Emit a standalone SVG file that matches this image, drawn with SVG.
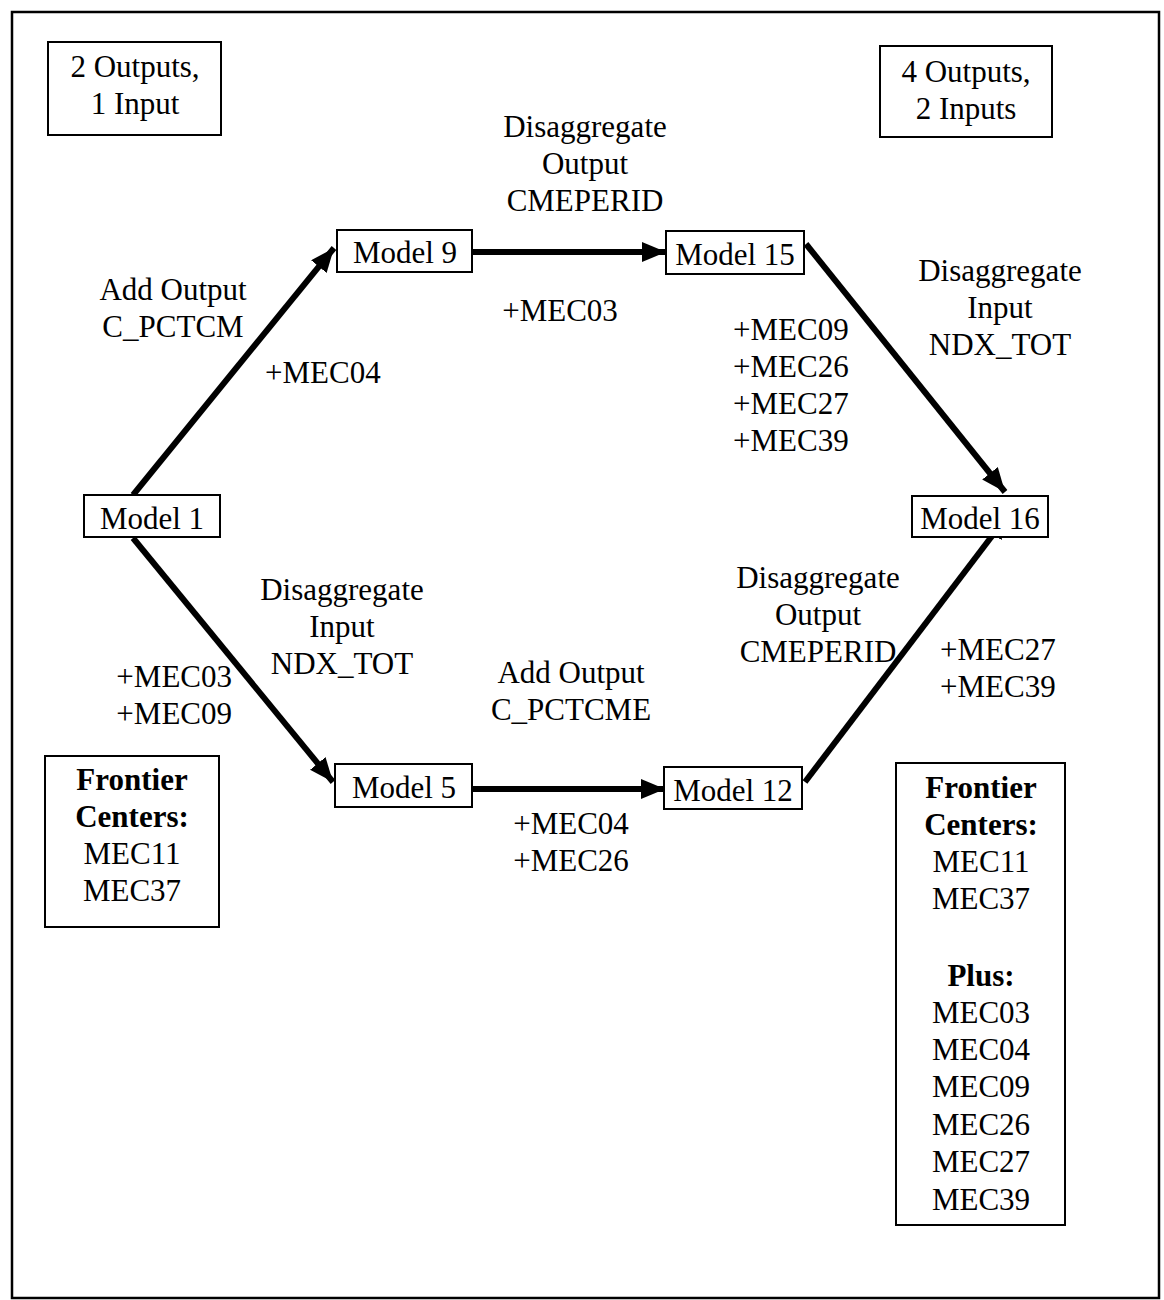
<svg xmlns="http://www.w3.org/2000/svg" width="1164" height="1300" viewBox="0 0 1164 1300">
<style>
text{font-family:"Liberation Serif","Times New Roman",serif;font-size:31px;fill:#000}
.c{text-anchor:middle}
.b{font-weight:bold}
.box{fill:#fff;stroke:#000;stroke-width:2}
.edge{stroke:#000;stroke-width:6;fill:none;marker-end:url(#ah)}
</style>
<defs>
<marker id="ah" markerUnits="userSpaceOnUse" markerWidth="26" markerHeight="22" refX="24" refY="10" orient="auto">
<path d="M0,0 L24,10 L0,20 Z" fill="#000"/>
</marker>
</defs>
<rect width="1164" height="1300" fill="#fff"/>
<rect id="frame" x="12" y="12" width="1147" height="1286" fill="none" stroke="#000" stroke-width="2.5"/>

<g id="connectors">
<line class="edge" x1="133" y1="495" x2="334" y2="248"/>
<line class="edge" x1="472" y1="252" x2="666" y2="252"/>
<line class="edge" x1="806" y1="244" x2="1005" y2="492"/>
<line class="edge" x1="133" y1="538" x2="333" y2="782"/>
<line class="edge" x1="472" y1="789" x2="665" y2="789"/>
<line class="edge" x1="805" y1="782" x2="1008" y2="515"/>
</g>

<g id="note-left">
<rect class="box" x="48" y="42" width="173" height="93"/>
<text class="c" x="135" y="77">2 Outputs,</text>
<text class="c" x="135" y="114">1 Input</text>
</g>
<g id="note-right">
<rect class="box" x="880" y="46" width="172" height="91"/>
<text class="c" x="966" y="82">4 Outputs,</text>
<text class="c" x="966" y="119">2 Inputs</text>
</g>

<g id="model9">
<rect class="box" x="337" y="230" width="135" height="42"/>
<text class="c" x="405" y="263">Model 9</text>
</g>
<g id="model15">
<rect class="box" x="666" y="231" width="138" height="43"/>
<text class="c" x="735" y="265">Model 15</text>
</g>
<g id="model1">
<rect class="box" x="84" y="495" width="136" height="42"/>
<text class="c" x="152" y="529">Model 1</text>
</g>
<g id="model16">
<rect class="box" x="912" y="496" width="136" height="41"/>
<text class="c" x="980" y="529">Model 16</text>
</g>
<g id="model5">
<rect class="box" x="335" y="764" width="137" height="43"/>
<text class="c" x="404" y="798">Model 5</text>
</g>
<g id="model12">
<rect class="box" x="664" y="767" width="138" height="42"/>
<text class="c" x="733" y="801">Model 12</text>
</g>

<g id="labels">
<text class="c" x="173" y="300">Add Output</text>
<text class="c" x="173" y="337">C_PCTCM</text>
<text x="265" y="383">+MEC04</text>
<text class="c" x="585" y="137">Disaggregate</text>
<text class="c" x="585" y="174">Output</text>
<text class="c" x="585" y="211">CMEPERID</text>
<text class="c" x="560" y="321">+MEC03</text>
<text x="733" y="340">+MEC09</text>
<text x="733" y="377">+MEC26</text>
<text x="733" y="414">+MEC27</text>
<text x="733" y="451">+MEC39</text>
<text class="c" x="1000" y="281">Disaggregate</text>
<text class="c" x="1000" y="318">Input</text>
<text class="c" x="1000" y="355">NDX_TOT</text>
<text class="c" x="342" y="600">Disaggregate</text>
<text class="c" x="342" y="637">Input</text>
<text class="c" x="342" y="674">NDX_TOT</text>
<text x="232" y="687" text-anchor="end">+MEC03</text>
<text x="232" y="724" text-anchor="end">+MEC09</text>
<text class="c" x="571" y="683">Add Output</text>
<text class="c" x="571" y="720">C_PCTCME</text>
<text class="c" x="818" y="588">Disaggregate</text>
<text class="c" x="818" y="625">Output</text>
<text class="c" x="818" y="662">CMEPERID</text>
<text x="940" y="660">+MEC27</text>
<text x="940" y="697">+MEC39</text>
<text class="c" x="571" y="834">+MEC04</text>
<text class="c" x="571" y="871">+MEC26</text>
</g>

<g id="frontier-left">
<rect class="box" x="45" y="756" width="174" height="171"/>
<text class="c b" x="132" y="790">Frontier</text>
<text class="c b" x="132" y="827">Centers:</text>
<text class="c" x="132" y="864">MEC11</text>
<text class="c" x="132" y="901">MEC37</text>
</g>
<g id="frontier-right">
<rect class="box" x="896" y="763" width="169" height="462"/>
<text class="c b" x="981" y="798">Frontier</text>
<text class="c b" x="981" y="835">Centers:</text>
<text class="c" x="981" y="872">MEC11</text>
<text class="c" x="981" y="909">MEC37</text>
<text class="c b" x="981" y="986">Plus:</text>
<text class="c" x="981" y="1023">MEC03</text>
<text class="c" x="981" y="1060">MEC04</text>
<text class="c" x="981" y="1097">MEC09</text>
<text class="c" x="981" y="1135">MEC26</text>
<text class="c" x="981" y="1172">MEC27</text>
<text class="c" x="981" y="1210">MEC39</text>
</g>
</svg>
